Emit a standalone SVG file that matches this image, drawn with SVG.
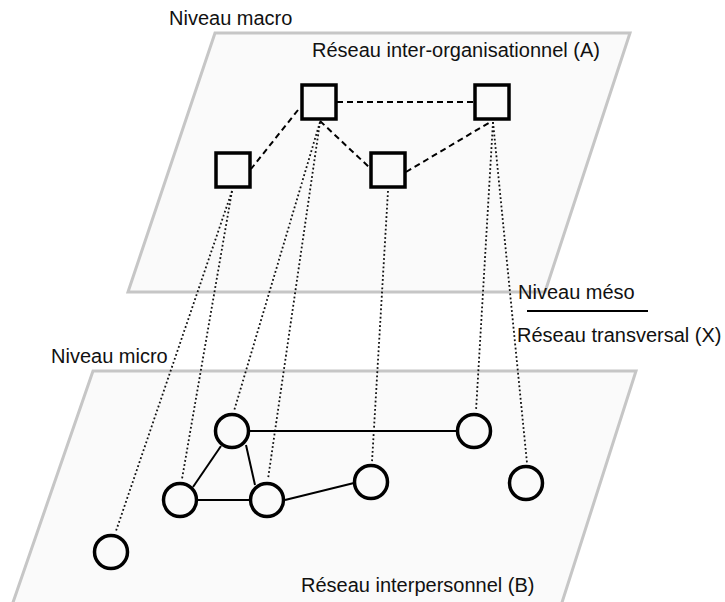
<svg xmlns="http://www.w3.org/2000/svg" width="725" height="602" viewBox="0 0 725 602">
<style>
.plane{fill:#fafafa;stroke:#c6c6c6;stroke-width:3}
.sq{fill:#fafafa;stroke:#000;stroke-width:3.5}
.ci{fill:#fafafa;stroke:#000;stroke-width:3.5}
.dash{stroke:#000;stroke-width:2;stroke-dasharray:6 4;fill:none}
.dot{stroke:#111;stroke-width:1.8;stroke-dasharray:1.8 2.4;fill:none}
.solid{stroke:#000;stroke-width:2;fill:none}
text{font-family:"Liberation Sans",Arial,Helvetica,sans-serif;font-size:20px;fill:#111}
</style>
<rect width="725" height="602" fill="#fff"/>
<g id="plane-micro"><polygon class="plane" points="93,371 636,371 550,640 0,640"/></g>
<g id="plane-macro"><polygon class="plane" points="215,33 630,33 545,292 128,292"/></g>
<g id="labels">
<text x="169" y="25">Niveau macro</text>
<text x="312" y="57">Réseau inter-organisationnel (A)</text>
<text x="518" y="299">Niveau méso</text>
<line x1="527" y1="311" x2="648" y2="311" stroke="#000" stroke-width="2"/>
<text x="517" y="342">Réseau transversal (X)</text>
<text x="51" y="363">Niveau micro</text>
<text x="301" y="592">Réseau interpersonnel (B)</text>
</g>
<g id="connectors">
<line class="dash" x1="337" y1="102" x2="474" y2="102"/>
<line class="dash" x1="298" y1="110" x2="251" y2="169"/>
<line class="dash" x1="320" y1="121" x2="370" y2="168"/>
<line class="dash" x1="406" y1="172" x2="492" y2="121"/>
<line class="dot" x1="232" y1="191" x2="116" y2="531"/>
<line class="dot" x1="232" y1="191" x2="182" y2="479"/>
<line class="dot" x1="320" y1="122" x2="234" y2="411"/>
<line class="dot" x1="320" y1="122" x2="268" y2="479"/>
<line class="dot" x1="388" y1="191" x2="372" y2="462"/>
<line class="dot" x1="493" y1="122" x2="476" y2="411"/>
<line class="dot" x1="493" y1="122" x2="527" y2="463"/>
<line class="solid" x1="250" y1="431" x2="456" y2="431"/>
<line class="solid" x1="221" y1="446" x2="193" y2="487"/>
<line class="solid" x1="246" y1="445" x2="255" y2="485"/>
<line class="solid" x1="198" y1="500" x2="249" y2="500"/>
<line class="solid" x1="285" y1="500" x2="354" y2="483"/>
</g>
<g id="sq1"><rect class="sq" x="302" y="85" width="34" height="34"/></g>
<g id="sq2"><rect class="sq" x="475" y="85" width="34" height="34"/></g>
<g id="sq3"><rect class="sq" x="216" y="153" width="34" height="34"/></g>
<g id="sq4"><rect class="sq" x="371" y="153" width="34" height="34"/></g>
<g id="c-a"><circle class="ci" cx="232" cy="431" r="16.5"/></g>
<g id="c-b"><circle class="ci" cx="180" cy="500" r="16.5"/></g>
<g id="c-c"><circle class="ci" cx="267" cy="500" r="16.5"/></g>
<g id="c-d"><circle class="ci" cx="371" cy="482" r="16.5"/></g>
<g id="c-e"><circle class="ci" cx="474" cy="431" r="16.5"/></g>
<g id="c-f"><circle class="ci" cx="526" cy="483" r="16.5"/></g>
<g id="c-g"><circle class="ci" cx="111" cy="552" r="16.5"/></g>
</svg>
